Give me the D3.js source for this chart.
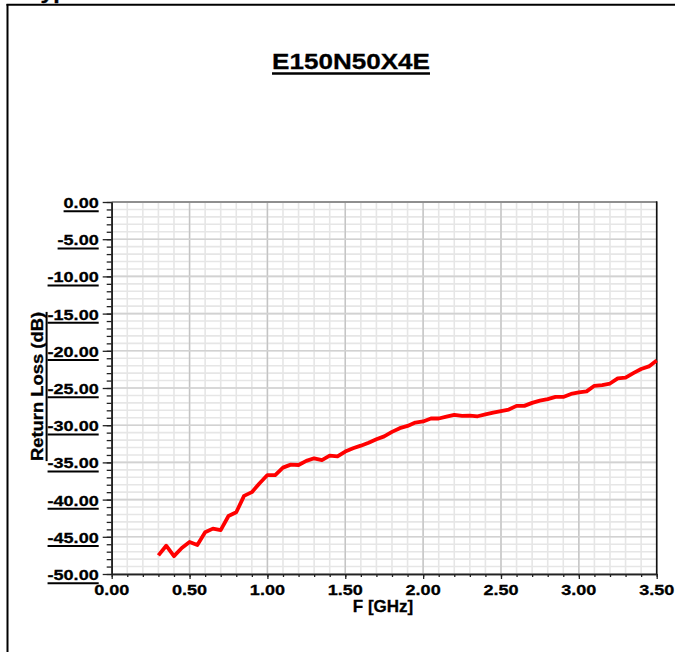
<!DOCTYPE html>
<html><head><meta charset="utf-8">
<script src="https://cdn.jsdelivr.net/npm/d3@7"></script>
<style>html,body{margin:0;padding:0;background:#fff;overflow:hidden}</style>
</head><body><svg id="c" width="675" height="652"></svg>
<script>
const headerText = "Typical Performance";
const title = "E150N50X4E";
const xLabel = "F [GHz]";
const yLabel = "Return Loss (dB)";
const xTicks = [0, 0.5, 1, 1.5, 2, 2.5, 3, 3.5];
const xTickLabels = ["0.00", "0.50", "1.00", "1.50", "2.00", "2.50", "3.00", "3.50"];
const yTicks = [0, -5, -10, -15, -20, -25, -30, -35, -40, -45, -50];
const yTickLabels = ["0.00", "-5.00", "-10.00", "-15.00", "-20.00", "-25.00", "-30.00", "-35.00", "-40.00", "-45.00", "-50.00"];
const freqGHz = [0.30, 0.35, 0.40, 0.45, 0.50, 0.55, 0.60, 0.65, 0.70, 0.75, 0.80, 0.85, 0.90, 0.95,
  1.00, 1.05, 1.10, 1.15, 1.20, 1.25, 1.30, 1.35, 1.40, 1.45, 1.50, 1.55, 1.60, 1.65, 1.70, 1.75,
  1.80, 1.85, 1.90, 1.95, 2.00, 2.05, 2.10, 2.15, 2.20, 2.25, 2.30, 2.35, 2.40, 2.45, 2.50, 2.55,
  2.60, 2.65, 2.70, 2.75, 2.80, 2.85, 2.90, 2.95, 3.00, 3.05, 3.10, 3.15, 3.20, 3.25, 3.30, 3.35,
  3.40, 3.45, 3.50];
const returnLossDb = [-47.5, -46.2, -47.6, -46.5, -45.7, -46.1, -44.4, -43.9, -44.1, -42.2, -41.7, -39.5, -39.0, -37.8,
  -36.7, -36.7, -35.7, -35.3, -35.35, -34.8, -34.45, -34.7, -34.1, -34.2, -33.55, -33.1, -32.75, -32.35, -31.9, -31.5,
  -30.9, -30.4, -30.1, -29.65, -29.5, -29.1, -29.1, -28.85, -28.6, -28.75, -28.7, -28.8, -28.55, -28.3, -28.1, -27.9,
  -27.4, -27.4, -27.0, -26.7, -26.5, -26.2, -26.2, -25.8, -25.6, -25.45, -24.7, -24.6, -24.4, -23.7, -23.6, -23.0,
  -22.45, -22.1, -21.3];

const FONT = "'Liberation Sans', Arial, Helvetica, sans-serif";
const svg = d3.select("#c");
const L = 111.7, R = 656.7, T = 202, B = 574;
const x = d3.scaleLinear().domain([0, 3.5]).range([L, R]);
const y = d3.scaleLinear().domain([0, -50]).range([T, B]);

// outer frame
svg.append("line").attr("x1", 7.5).attr("x2", 7.5).attr("y1", 4).attr("y2", 652).attr("stroke", "#000").attr("stroke-width", 2);
svg.append("line").attr("x1", 6.5).attr("x2", 675).attr("y1", 4.8).attr("y2", 4.8).attr("stroke", "#000").attr("stroke-width", 2);

function stext(px, py, str, size, sx, anchor) {
  return svg.append("text")
    .attr("transform", `translate(${px},${py}) scale(${sx},1)`)
    .attr("text-anchor", anchor)
    .attr("font-family", FONT).attr("font-weight", "bold")
    .attr("font-size", size).attr("fill", "#000")
    .attr("stroke", "#000").attr("stroke-width", 0.3)
    .text(str);
}

// header fragment (cut off at top, as in the reference)
stext(28, -1.5, headerText, 20, 1.16, "start");

// title
const tt = stext(351, 68.7, title, 22.4, 1.164, "middle");
const tw = tt.node().getComputedTextLength() * 1.164;
svg.append("line").attr("x1", 351 - tw / 2).attr("x2", 351 + tw / 2).attr("y1", 73.5).attr("y2", 73.5)
  .attr("stroke", "#000").attr("stroke-width", 2.5);

// grid
const gridG = svg.append("g");
const minorX = d3.range(0, 36).map(i => i / 10);
const minorY = d3.range(0, 51).map(i => -i);
gridG.selectAll(".mx").data(minorX).join("line")
  .attr("x1", d => x(d)).attr("x2", d => x(d)).attr("y1", T).attr("y2", B)
  .attr("stroke", "#e6e6e6").attr("stroke-width", 1.6);
gridG.selectAll(".my").data(minorY).join("line")
  .attr("y1", d => y(d)).attr("y2", d => y(d)).attr("x1", L).attr("x2", R)
  .attr("stroke", "#e6e6e6").attr("stroke-width", 1.6);
gridG.selectAll(".Mx").data(xTicks).join("line")
  .attr("x1", d => x(d)).attr("x2", d => x(d)).attr("y1", T).attr("y2", B)
  .attr("stroke", "#c4c4c4").attr("stroke-width", 1.4);
gridG.selectAll(".My").data(yTicks).join("line")
  .attr("y1", d => y(d)).attr("y2", d => y(d)).attr("x1", L).attr("x2", R)
  .attr("stroke", "#d2d2d2").attr("stroke-width", 1.6);

// plot border top/right
svg.append("line").attr("x1", L).attr("x2", R).attr("y1", T).attr("y2", T).attr("stroke", "#777").attr("stroke-width", 1.5);
svg.append("line").attr("x1", R).attr("x2", R).attr("y1", T - 0.7).attr("y2", B).attr("stroke", "#111").attr("stroke-width", 1.6);

// axes (lines + ticks) using d3 axes
const xMinor = svg.append("g").attr("transform", `translate(0,${B})`)
  .call(d3.axisBottom(x).tickValues(minorX).tickSize(3).tickSizeOuter(0).tickFormat(""));
const xMajor = svg.append("g").attr("transform", `translate(0,${B})`)
  .call(d3.axisBottom(x).tickValues(xTicks).tickSize(5).tickSizeOuter(0).tickFormat(""));
const yMinor = svg.append("g").attr("transform", `translate(${L},0)`)
  .call(d3.axisLeft(y).tickValues(minorY).tickSize(5).tickSizeOuter(0).tickFormat(""));
const yMajor = svg.append("g").attr("transform", `translate(${L},0)`)
  .call(d3.axisLeft(y).tickValues(yTicks).tickSize(9).tickSizeOuter(0).tickFormat(""));
[xMinor, xMajor, yMinor, yMajor].forEach(g => {
  g.selectAll("line").attr("stroke", "#222").attr("stroke-width", 1.3);
  g.select(".domain").attr("stroke", "#222").attr("stroke-width", 1.6);
});

// curve
const line = d3.line().x((d, i) => x(freqGHz[i])).y(d => y(d));
svg.append("path").datum(returnLossDb).attr("d", line)
  .attr("fill", "none").attr("stroke", "#ff0000").attr("stroke-width", 3.8)
  .attr("stroke-linejoin", "round").attr("stroke-linecap", "butt");

// x tick labels
xTicks.forEach((v, i) => {
  stext(x(v), 594.7, xTickLabels[i], 15.3, 1.18, "middle");
});

// y tick labels with underline
yTicks.forEach((v, i) => {
  const ty = y(v) + 5.9;
  const t = stext(98.7, ty, yTickLabels[i], 15.3, 1.18, "end");
  const w = t.node().getComputedTextLength() * 1.18;
  svg.append("line").attr("x1", 98.7 - w).attr("x2", 98.7).attr("y1", ty + 3.3).attr("y2", ty + 3.3)
    .attr("stroke", "#000").attr("stroke-width", 2);
});

// y label rotated + underline
const yl = svg.append("text")
  .attr("transform", `translate(43.3,386.5) rotate(-90) scale(1.15,1)`)
  .attr("text-anchor", "middle").attr("font-family", FONT).attr("font-weight", "bold")
  .attr("font-size", 16).attr("fill", "#000").attr("stroke", "#000").attr("stroke-width", 0.3).text(yLabel);
const ylw = yl.node().getComputedTextLength() * 1.15;
svg.append("line").attr("x1", 46.6).attr("x2", 46.6).attr("y1", 386.5 - ylw / 2).attr("y2", 386.5 + ylw / 2)
  .attr("stroke", "#000").attr("stroke-width", 2);

// x label
stext(383, 611.5, xLabel, 17, 1.0, "middle");
</script>
</body></html>
